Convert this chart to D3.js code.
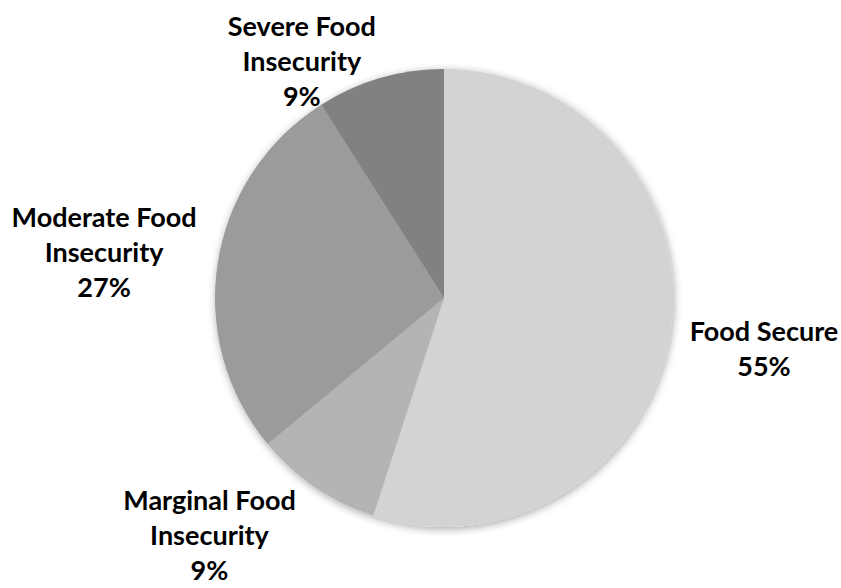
<!DOCTYPE html>
<html>
<head>
<meta charset="utf-8">
<script src="https://cdn.jsdelivr.net/npm/d3@7"></script>
<style>
  html, body { margin: 0; padding: 0; background: #fff; }
  svg text { font-family: Lato, "Open Sans", sans-serif; font-weight: 700; fill: #000; }
</style>
</head>
<body>
<svg id="chart" width="841" height="588"></svg>
<script>
(function() {
    // food security shares, clockwise from 12 o'clock
    const categories = ["Food Secure", "Marginal Food Insecurity", "Moderate Food Insecurity", "Severe Food Insecurity"];
    const values = [55, 9, 27, 9];
    const labelLines = [
        ["Food Secure", "55%"],
        ["Marginal Food", "Insecurity", "9%"],
        ["Moderate Food", "Insecurity", "27%"],
        ["Severe Food", "Insecurity", "9%"]
    ];
    const colors = ["#d3d3d3", "#b4b4b4", "#9b9b9b", "#818181"];

    // label placement (Excel-style "best fit"): distance from centre, angle tweak in degrees
    const labelDist = [324, 334, 343, 276];
    const labelTurn = [0, 10.4, -1.3, -14.8];

    const svg = d3.select("#chart");
    const cx = 444, cy = 298, r = 229;
    const lineH = 35;

    const defs = svg.append("defs");
    const f = defs.append("filter").attr("id", "shadow")
        .attr("x", "-10%").attr("y", "-10%").attr("width", "120%").attr("height", "120%");
    f.append("feGaussianBlur").attr("in", "SourceAlpha").attr("stdDeviation", 4);
    f.append("feOffset").attr("dx", 1).attr("dy", 2).attr("result", "blur");
    f.append("feComponentTransfer").append("feFuncA").attr("type", "linear").attr("slope", 0.35);
    const m = f.append("feMerge");
    m.append("feMergeNode");
    m.append("feMergeNode").attr("in", "SourceGraphic");

    const pie = d3.pie().sort(null).value(d => d);
    const arcs = pie(values);
    const arc = d3.arc().innerRadius(0).outerRadius(r);
    const color = d3.scaleOrdinal().domain(categories).range(colors);

    const g = svg.append("g").attr("transform", `translate(${cx},${cy})`);

    g.append("g")
        .attr("filter", "url(#shadow)")
        .selectAll("path")
        .data(arcs)
        .join("path")
        .attr("d", arc)
        .attr("fill", (d, i) => color(categories[i]));

    const labels = g.selectAll("text.lbl")
        .data(arcs)
        .join("text")
        .attr("class", "lbl")
        .attr("text-anchor", "middle")
        .attr("font-size", 27)
        .attr("transform", (d, i) => {
            const a = (d.startAngle + d.endAngle) / 2 + labelTurn[i] * Math.PI / 180;
            const x = Math.sin(a) * labelDist[i];
            const y = -Math.cos(a) * labelDist[i];
            return `translate(${x},${y})`;
        });

    labels.each(function(d, i) {
        const lines = labelLines[i];
        const n = lines.length;
        d3.select(this).selectAll("tspan")
            .data(lines)
            .join("tspan")
            .attr("x", 0)
            .attr("y", (t, k) => (k - (n - 1) / 2) * lineH + 9.5)
            .text(t => t);
    });
})();
</script>
</body>
</html>
